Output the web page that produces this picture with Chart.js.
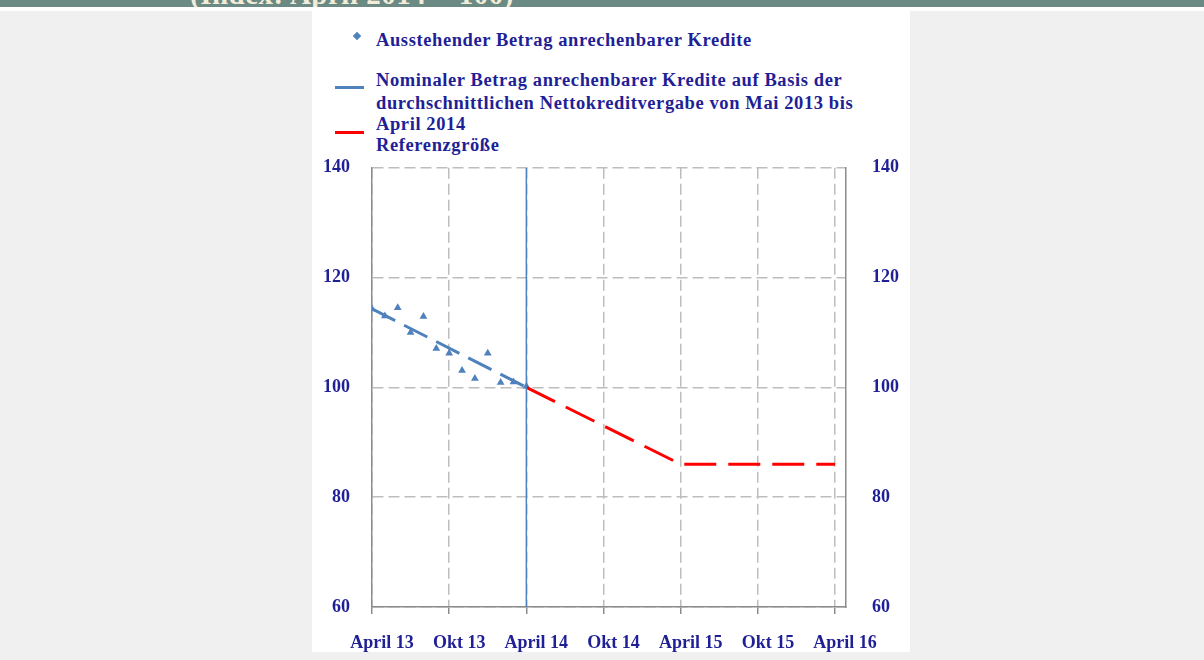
<!DOCTYPE html>
<html>
<head>
<meta charset="utf-8">
<script src="https://cdn.jsdelivr.net/npm/chart.js@4.4.1/dist/chart.umd.min.js"></script>
<style>
  html, body { margin: 0; padding: 0; }
  body {
    width: 1204px; height: 660px; position: relative; overflow: hidden;
    background: #f0f0f0;
    font-family: 'Liberation Serif', 'Times New Roman', serif;
  }
  .band {
    position: absolute; left: 0; top: 0; width: 1204px; height: 7px;
    background: #6b8a84; overflow: hidden;
  }
  .band span {
    position: absolute; left: 190px; top: -22px;
    font-size: 29px; font-weight: bold; color: #f3ecd9; white-space: nowrap; letter-spacing: 0.5px;
  }
  .strip { position: absolute; left: 0; top: 7px; width: 1204px; height: 4px; background: #fff; }
  .panel { position: absolute; left: 312px; top: 7px; width: 598px; height: 645px; background: #fff; }
  .lg {
    position: absolute; left: 376px; font-size: 18.5px; font-weight: bold;
    color: #1f1f96; white-space: nowrap; letter-spacing: 0.6px; line-height: 20px;
  }
  .diamond {
    position: absolute; left: 354px; top: 33px; width: 6px; height: 6px;
    background: #4f81bd; transform: rotate(45deg);
  }
  .bar { position: absolute; left: 335px; width: 29px; }
  #wrap { position: absolute; left: 312px; top: 131px; width: 598px; height: 521px; }
</style>
</head>
<body>
<div class="band"><span>(Index: April 2014 = 100)</span></div>
<div class="strip"></div>
<div class="panel"></div>

<div class="diamond"></div>
<div class="lg" style="top:30px">Ausstehender Betrag anrechenbarer Kredite</div>

<div class="bar" style="top:86px;height:3px;background:#4f81bd"></div>
<div class="lg" style="top:70px">Nominaler Betrag anrechenbarer Kredite auf Basis der</div>
<div class="lg" style="top:93px">durchschnittlichen Nettokreditvergabe von Mai 2013 bis</div>
<div class="lg" style="top:114px">April 2014</div>

<div class="bar" style="top:131px;height:3px;background:#ff0000"></div>
<div class="lg" style="top:135px">Referenzgröße</div>

<div id="wrap"><canvas id="chart"></canvas></div>

<script>
// ----------------------------------------
// Data (x = months since April 2013)
// ----------------------------------------
const tickMonths = [0, 6, 12, 18, 24, 30, 36];
const tickLabels = ['April 13', 'Okt 13', 'April 14', 'Okt 14', 'April 15', 'Okt 15', 'April 16'];
const yTicks = [60, 80, 100, 120, 140];

const outstandingMonths = [0, 1, 2, 3, 4, 5, 6, 7, 8, 9, 10, 11, 12];
const outstandingValues = [114.3, 113.0, 114.5, 110.0, 112.9, 107.1, 106.2, 103.1, 101.6, 106.2, 100.9, 101.0, 100.2];

const nominalMonths = [0, 12];
const nominalValues = [114.3, 100];

const referenceMonths = [12, 24, 36];
const referenceValues = [100, 86, 86];

const markerMonths = [12, 12];
const markerValues = [60, 140];

const toPoints = (xs, ys) => xs.map((x, i) => ({ x: x, y: ys[i] }));

const labelColor = '#1f1f96';
const labelFont = { family: "'Liberation Serif', 'Times New Roman', serif", size: 18, weight: 'bold' };

new Chart(document.getElementById('chart'), {
  type: 'line',
  data: {
    datasets: [
      {
        label: 'Marker April 2014',
        data: toPoints(markerMonths, markerValues),
        borderColor: '#4f81bd',
        borderWidth: 1.5,
        pointRadius: 0,
      },
      {
        label: 'Nominaler Betrag',
        data: toPoints(nominalMonths, nominalValues),
        borderColor: '#4f81bd',
        borderWidth: 3,
        borderDash: [26, 10],
        pointRadius: 0,
      },
      {
        label: 'Referenzgröße',
        data: toPoints(referenceMonths, referenceValues),
        borderColor: '#ff0000',
        borderWidth: 3,
        borderDash: [32, 12],
        pointRadius: 0,
      },
      {
        label: 'Ausstehender Betrag',
        data: toPoints(outstandingMonths, outstandingValues),
        showLine: false,
        pointStyle: 'triangle',
        pointRadius: 4.5,
        pointBackgroundColor: '#4f81bd',
        pointBorderColor: '#4f81bd',
        pointBorderWidth: 0,
      },
    ]
  },
  options: {
    responsive: true,
    maintainAspectRatio: false,
    animation: false,
    layout: { padding: { top: 15, left: 0, right: 0, bottom: 0 } },
    plugins: { legend: { display: false }, tooltip: { enabled: false } },
    scales: {
      x: {
        type: 'linear',
        min: 0,
        max: 36.85,
        afterBuildTicks: (axis) => { axis.ticks = tickMonths.map(v => ({ value: v })); },
        afterFit: (axis) => { axis.height = 45; },
        grid: { color: '#bdbdbd', lineWidth: 1.5, tickLength: 7, tickColor: '#8c8c8c', tickWidth: 1.5 },
        border: { display: true, color: '#8c8c8c', width: 1.5, dash: [11, 5] },
        ticks: {
          color: labelColor,
          font: labelFont,
          padding: 19,
          labelOffset: 10,
          maxRotation: 0,
          autoSkip: false,
          callback: (value) => tickLabels[tickMonths.indexOf(value)],
        }
      },
      y: {
        position: 'left',
        min: 60,
        max: 140,
        afterBuildTicks: (axis) => { axis.ticks = yTicks.map(v => ({ value: v })); },
        afterFit: (axis) => { axis.width = 60; },
        grid: { color: '#bdbdbd', lineWidth: 1.5, drawTicks: false },
        border: { display: true, color: '#8c8c8c', width: 1.5, dash: [11, 5] },
        ticks: { color: labelColor, font: labelFont, padding: 22 }
      },
      y2: {
        position: 'right',
        min: 60,
        max: 140,
        afterBuildTicks: (axis) => { axis.ticks = yTicks.map(v => ({ value: v })); },
        afterFit: (axis) => { axis.width = 64; },
        grid: { drawOnChartArea: false, drawTicks: false },
        border: { display: true, color: '#8c8c8c', width: 1.5 },
        ticks: { color: labelColor, font: labelFont, padding: 26 }
      }
    }
  }
});
</script>
</body>
</html>
